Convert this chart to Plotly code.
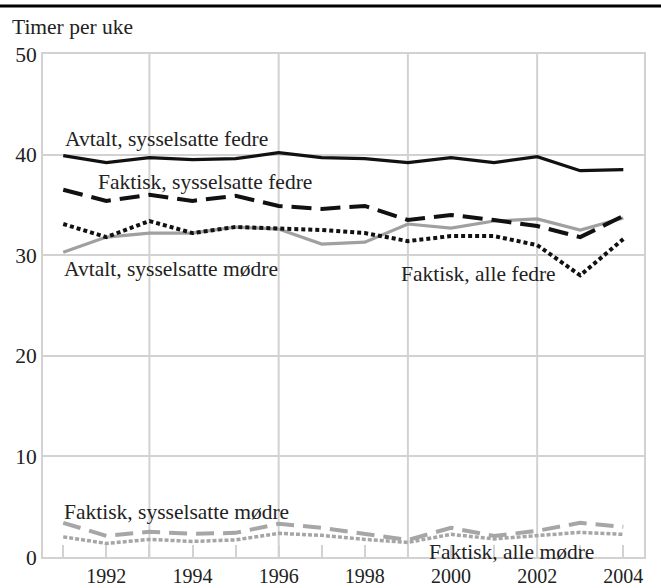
import plotly.graph_objects as go

years = list(range(1991, 2005))
avtalt_fedre = [39.9, 39.2, 39.7, 39.5, 39.6, 40.2, 39.7, 39.6, 39.2, 39.7, 39.2, 39.8, 38.4, 38.5]
faktisk_syss_fedre = [36.5, 35.4, 36.0, 35.4, 35.9, 34.9, 34.6, 34.9, 33.5, 34.0, 33.5, 32.9, 31.8, 33.9]
faktisk_alle_fedre = [33.1, 31.8, 33.4, 32.2, 32.8, 32.7, 32.5, 32.2, 31.4, 31.9, 31.9, 31.0, 28.0, 31.6]
avtalt_modre = [30.3, 31.8, 32.2, 32.2, 32.8, 32.6, 31.1, 31.3, 33.1, 32.7, 33.4, 33.6, 32.5, 33.7]
faktisk_syss_modre = [3.4, 2.1, 2.5, 2.3, 2.4, 3.3, 2.9, 2.3, 1.7, 2.9, 2.1, 2.6, 3.4, 3.0]
faktisk_alle_modre = [2.0, 1.35, 1.75, 1.55, 1.7, 2.35, 2.15, 1.75, 1.45, 2.25, 1.8, 2.1, 2.45, 2.25]

tick_years = [1992, 1994, 1996, 1998, 2000, 2002, 2004]
grid_years = [1993, 1996, 1999, 2002]
y_ticks = [0, 10, 20, 30, 40, 50]

FONT = "Times New Roman, Liberation Serif, Times, DejaVu Serif, serif"
FS = 21.5
XFS = 20
TXT = "#222222"
GRID = "#d2d2d2"

fig = go.Figure()
fig.add_trace(go.Scatter(x=years, y=faktisk_syss_modre, mode="lines",
                         line=dict(color="#a6a6a6", width=4, dash="18px,9px")))
fig.add_trace(go.Scatter(x=years, y=faktisk_alle_modre, mode="lines",
                         line=dict(color="#a6a6a6", width=3.5, dash="4px,2px")))
fig.add_trace(go.Scatter(x=years, y=avtalt_modre, mode="lines",
                         line=dict(color="#a0a0a0", width=3.2)))
fig.add_trace(go.Scatter(x=years, y=faktisk_alle_fedre, mode="lines",
                         line=dict(color="#111111", width=4, dash="4px,3px")))
fig.add_trace(go.Scatter(x=years, y=faktisk_syss_fedre, mode="lines",
                         line=dict(color="#111111", width=4, dash="20px,9px")))
fig.add_trace(go.Scatter(x=years, y=avtalt_fedre, mode="lines",
                         line=dict(color="#111111", width=3.2)))

for gy in grid_years:
    fig.add_shape(type="line", xref="x", yref="paper", x0=gy, x1=gy, y0=0, y1=1,
                  line=dict(color=GRID, width=2), layer="below")

L, R, T, B = 43, 17, 54, 31
PW = 661 - L - R
PH = 588 - T - B
# top black rule across the page
fig.add_shape(type="line", xref="paper", yref="paper",
              x0=-L / PW, x1=1 + R / PW, y0=1 + (T - 6) / PH, y1=1 + (T - 6) / PH,
              line=dict(color="#000000", width=3))

ann_font = dict(family=FONT, size=FS, color=TXT)
labels = [
    ("Avtalt, sysselsatte fedre", 1991.0, 41.6),
    ("Faktisk, sysselsatte fedre", 1991.77, 37.3),
    ("Avtalt, sysselsatte mødre", 1990.98, 28.6),
    ("Faktisk, alle fedre", 1998.8, 28.1),
    ("Faktisk, sysselsatte mødre", 1990.98, 4.5),
    ("Faktisk, alle mødre", 1999.45, 0.5),
]
for txt, x, y in labels:
    fig.add_annotation(text=txt, x=x, y=y, xref="x", yref="y", xanchor="left",
                       yanchor="middle", showarrow=False, font=ann_font)

fig.add_annotation(text="Timer per uke", xref="paper", yref="paper",
                   x=-33 / PW, y=1 + (T - 27) / PH, xanchor="left", yanchor="middle",
                   showarrow=False, font=ann_font)

fig.update_layout(
    width=661, height=588,
    margin=dict(l=L, r=R, t=T, b=B, autoexpand=False),
    paper_bgcolor="white", plot_bgcolor="white",
    showlegend=False,
    font=dict(family=FONT, size=FS, color=TXT),
    xaxis=dict(range=[1990.53, 2004.48], tickmode="array", tickvals=years,
               ticktext=[str(y) if y in tick_years else "" for y in years],
               ticks="inside", ticklen=12, tickwidth=1.5, tickcolor=GRID,
               showgrid=False, zeroline=False, showline=True, linecolor=GRID,
               linewidth=2, mirror=True, automargin=False,
               tickfont=dict(family=FONT, size=XFS, color=TXT)),
    yaxis=dict(range=[0, 50], tickmode="array", tickvals=y_ticks,
               showgrid=True, gridcolor=GRID, gridwidth=2, zeroline=False,
               showline=True, linecolor=GRID, linewidth=2, mirror=True,
               ticks="", automargin=False,
               tickfont=dict(family=FONT, size=FS, color=TXT)),
)

fig.write_html("out.html", config={"displayModeBar": False},
               post_script="document.body.style.margin='0px';")
